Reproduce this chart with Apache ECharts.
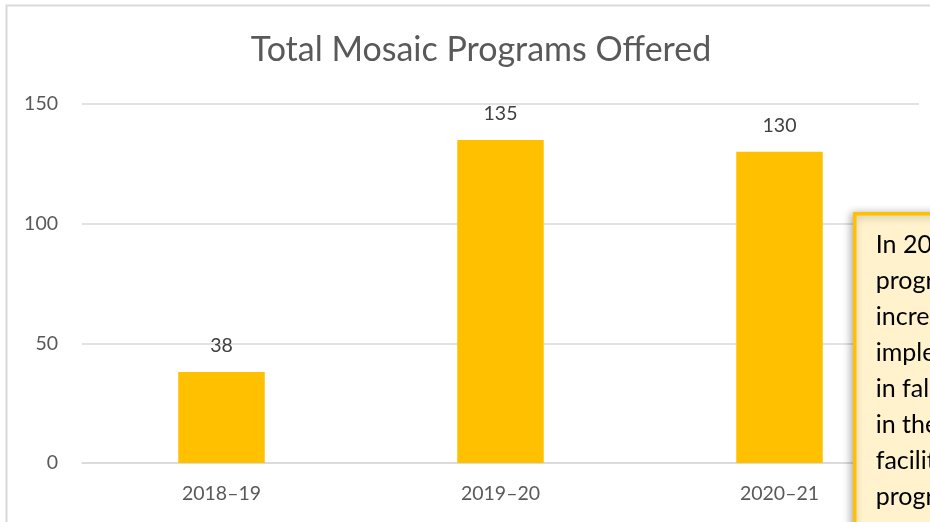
<!DOCTYPE html>
<html>
<head>
<meta charset="utf-8">
<script src="https://cdn.jsdelivr.net/npm/echarts@6/dist/echarts.min.js"></script>
<style>
  html, body { margin: 0; padding: 0; background: #fff; }
  #chart { width: 930px; height: 522px; }
</style>
</head>
<body>
<div id="chart"></div>
<script>
// Program totals per school year
const years = ['2018–19', '2019–20', '2020–21'];
const programsOffered = [38, 135, 130];
const yTicks = [0, 50, 100, 150];

// Callout note lines
const noteLines = ['In 2020–21,', 'programs', 'increased as', 'implemented', 'in fall 2020', 'in the', 'facilitators', 'programs', 'to'];

const FONT = 'Lato, "Open Sans", sans-serif';
const chart = echarts.init(document.getElementById('chart'), null, { renderer: 'canvas' });

chart.setOption({
  animation: false,
  backgroundColor: '#fff',
  title: {
    text: 'Total Mosaic Programs Offered',
    left: 476,
    top: 28,
    textAlign: 'center',
    textStyle: { fontFamily: FONT, fontSize: 34, fontWeight: 'normal', color: '#595959' }
  },
  grid: { left: 82, right: 11, top: 104, bottom: 59, containLabel: false },
  xAxis: {
    type: 'category',
    data: years,
    axisLine: { lineStyle: { color: '#d9d9d9', width: 1.5 } },
    axisTick: { show: false },
    axisLabel: { fontFamily: FONT, fontSize: 19.5, color: '#595959', margin: 21 }
  },
  yAxis: {
    type: 'value',
    min: yTicks[0],
    max: yTicks[yTicks.length - 1],
    interval: yTicks[1] - yTicks[0],
    axisLine: { show: false },
    axisTick: { show: false },
    splitLine: { lineStyle: { color: '#d9d9d9', width: 1.5 } },
    axisLabel: { fontFamily: FONT, fontSize: 19.5, color: '#595959', margin: 24 }
  },
  series: [{
    type: 'bar',
    data: programsOffered,
    barWidth: '31%',
    itemStyle: { color: '#FFC000' },
    label: {
      show: true,
      position: 'top',
      distance: 16,
      fontFamily: FONT,
      fontSize: 19.5,
      color: '#404040'
    }
  }],
  graphic: [
    // outer chart frame
    {
      type: 'rect',
      z: 100,
      shape: { x: 6.5, y: 5.5, width: 1000, height: 600 },
      style: { fill: 'none', stroke: '#d9d9d9', lineWidth: 2 },
      silent: true
    },
    // callout box
    {
      type: 'group',
      z: 100,
      left: 853,
      top: 212,
      children: [
        {
          type: 'rect',
          z: 100,
          shape: { x: 0, y: 0, width: 200, height: 400 },
          style: {
            fill: '#FFF2CC',
            stroke: '#FFC000',
            lineWidth: 3.5,
            shadowBlur: 8,
            shadowColor: 'rgba(0,0,0,0.3)',
            shadowOffsetX: -2,
            shadowOffsetY: 1
          }
        },
        {
          type: 'text',
          z: 101,
          x: 21,
          y: 13,
          style: {
            text: noteLines.join('\n'),
            fontFamily: FONT,
            fontSize: 25,
            lineHeight: 36,
            fill: '#000'
          }
        }
      ]
    }
  ]
});
</script>
</body>
</html>
